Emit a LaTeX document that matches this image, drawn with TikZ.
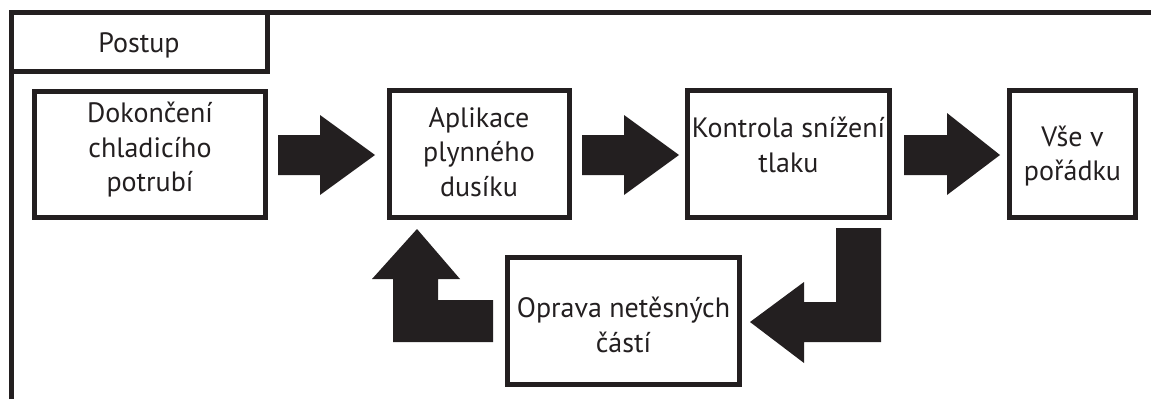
\documentclass[tikz,border=0pt]{standalone}
\usepackage{fontspec}
\setmainfont{PT Sans}
\definecolor{ink}{HTML}{231F20}
\begin{document}
\begin{tikzpicture}[x=1pt,y=-1pt,
  frameline/.style={draw=ink,line width=5pt},
  stepbox/.style={draw=ink,line width=5pt,fill=white},
  lbl/.style={text=ink,font=\fontsize{28}{34.5}\selectfont,align=center,inner sep=0pt},
  blockarrow/.style={fill=ink,draw=none}]
\useasboundingbox (0,0) rectangle (1151,399);
% outer frame
\draw[frameline] (11,399) -- (11,12) -- (1151,12);
\draw[frameline] (11,71) -- (267.5,71) -- (267.5,12);
\node[lbl] (postup) at (139,45) {Postup};
% boxes
\draw[stepbox] (34.5,91) rectangle (265.5,217.5);
\draw[stepbox] (389,90.5) rectangle (569.5,217.5);
\draw[stepbox] (687.5,90.5) rectangle (889.5,217.5);
\draw[stepbox] (1009.5,90.5) rectangle (1135.5,217.5);
\draw[stepbox] (507.5,257.5) rectangle (739.5,384.5);
\node[lbl] (b1) at (150,150) {Dokončení\\chladicího\\potrubí};
\node[lbl] (b2) at (479,152) {Aplikace\\plynného\\dusíku};
\node[lbl] (b3) at (788.5,145) {Kontrola snížení\\tlaku};
\node[lbl] (b4) at (1072.5,156) {Vše v\\pořádku};
\node[lbl] (b5) at (623.5,325) {Oprava netěsných\\částí};
% straight block arrows
\fill[blockarrow] (278,135) -- (320,135) -- (320,115) -- (375,155) -- (320,195) -- (320,175) -- (278,175) -- cycle;
\fill[blockarrow] (582,135) -- (624,135) -- (624,115) -- (679,155) -- (624,195) -- (624,175) -- (582,175) -- cycle;
\fill[blockarrow] (904,135) -- (947,135) -- (947,113) -- (1000,155) -- (947,195) -- (947,175) -- (904,175) -- cycle;
% L-shaped arrows
\fill[blockarrow] (836,228) -- (881,228) -- (881,342) -- (804,342) -- (804,363) -- (750,322) -- (804,282) -- (804,302) -- (836,302) -- cycle;
\fill[blockarrow] (493,300) -- (493,342) -- (393,342) -- (393,279) -- (372,279) -- (417,229) -- (460,279) -- (438,279) -- (438,300) -- cycle;
\end{tikzpicture}
\end{document}
